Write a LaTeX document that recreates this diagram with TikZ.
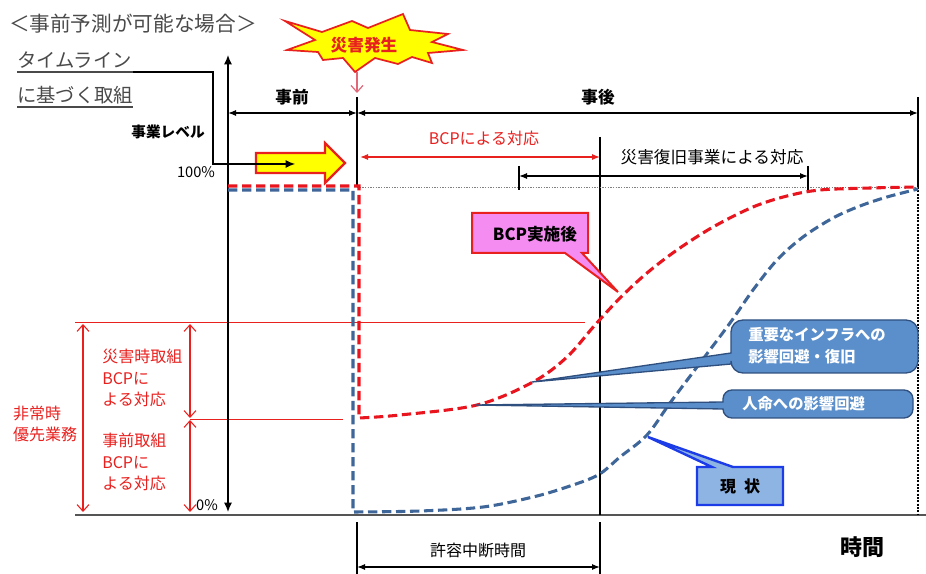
\documentclass[tikz,border=0pt]{standalone}
\usepackage{fontspec}
\setmainfont{Noto Sans CJK JP}
\usetikzlibrary{arrows.meta}
\definecolor{titlegray}{HTML}{4A4A4A}
\definecolor{redc}{HTML}{E8201E}
\definecolor{redd}{HTML}{E8141E}
\definecolor{blued}{HTML}{3F6699}
\definecolor{callb}{HTML}{5B8FCB}
\definecolor{callbd}{HTML}{2F507F}
\definecolor{genfill}{HTML}{8EB4E3}
\definecolor{genbd}{HTML}{1C3CE8}
\definecolor{pinkf}{HTML}{F58CF2}
\definecolor{yell}{HTML}{FFFF00}
\definecolor{smallarr}{HTML}{E06878}
\definecolor{axisgray}{HTML}{555555}
\newcommand\myfs[2]{\fontsize{#1}{#2}\selectfont}
\begin{document}
\begin{tikzpicture}[x=0.75pt,y=-0.75pt,
  txt/.style={inner sep=0pt, anchor=center},
  blk/.style={draw=black, line width=0.9pt},
  dimarrow/.style={draw=black, line width=0.9pt, {Latex[length=6pt,width=4.5pt]}-{Latex[length=6pt,width=4.5pt]}},
  redarrow/.style={draw=redc, line width=0.9pt, {Latex[length=6pt,width=4.5pt]}-{Latex[length=6pt,width=4.5pt]}},
  barb/.style={draw=redc, line width=0.8pt, {Straight Barb[length=5pt,width=9pt]}-{Straight Barb[length=5pt,width=9pt]}},
  reddash/.style={draw=redd, line width=2.3pt, dash pattern=on 7pt off 3.5pt},
  bluedash/.style={draw=blued, line width=2.3pt, dash pattern=on 7pt off 3.5pt},
  callout/.style={fill=callb, draw=callbd, line width=1pt},
  redtxt/.style={txt, text=redc, font=\myfs{12pt}{16pt}, align=left},
  calltxt/.style={txt, text=white, font=\bfseries\myfs{11.5pt}{16.5pt}, align=left}]
\useasboundingbox (0,0) rectangle (926,574);

% ---- title and timeline text
\node[txt, text=titlegray, font=\myfs{15.5pt}{18pt}] (title) at (133,24) {＜事前予測が可能な場合＞};
\node[inner sep=0pt, anchor=base west, text=titlegray, font=\myfs{14.5pt}{17pt}] (tl) at (17,68) {タイムライン};
\node[inner sep=0pt, anchor=base west, text=titlegray, font=\myfs{14.5pt}{17pt}] (kb) at (17,103) {に基づく取組};
\coordinate (ul1) at (17,72);
\coordinate (ul2) at (17,107);
\coordinate (ul2e) at (133,107);
\draw[line width=0.8pt, titlegray] (ul2) -- (ul2e);

% ---- red thin guide lines
\draw[redc, line width=0.7pt] (75,322) -- (585,322);
\draw[redc, line width=0.7pt] (190,419) -- (343,419);

% ---- axes
\draw[axisgray, line width=1.3pt] (75,515) -- (926,515);
\draw[line width=1pt, {Latex[length=7pt,width=6pt]}-{Latex[length=7pt,width=6pt]}] (228,512) -- (228,55);

% ---- vertical guides
\draw[blk] (357,97) -- (357,187);
\draw[blk] (918,97) -- (918,187);
\draw[line width=0.8pt, dash pattern=on 1.5pt off 1pt] (918,187) -- (918,515);
\draw[blk] (600,137) -- (600,515);
\draw[gray, line width=0.6pt, dash pattern=on 1pt off 1pt] (357,187) -- (918,187);
\draw[blk] (357,522) -- (357,574);
\draw[blk] (600,522) -- (600,574);

% ---- period arrows
\node[txt, font=\bfseries\myfs{12.5pt}{15pt}] (jizen) at (292,97) {事前};
\node[txt, font=\bfseries\myfs{12.5pt}{15pt}] (jigo) at (598,97) {事後};
\draw[dimarrow] (228,113) -- (357,113);
\draw[dimarrow] (357,113) -- (918,113);
\node[txt, text=redc, font=\myfs{12pt}{15pt}] (bcp) at (484,138) {BCPによる対応};
\draw[redarrow] (360,157) -- (600,157);
\node[txt, font=\myfs{12.5pt}{15pt}] (fukkyu) at (712,157) {災害復旧事業による対応};
\draw[dimarrow] (519,176) -- (808,176);
\draw[blk] (519,166) -- (519,190);
\draw[blk] (808,166) -- (808,190);

% ---- labels on axis
\node[txt, font=\bfseries\myfs{11pt}{13pt}] (level) at (168,132) {事業レベル};
\node[txt, font=\myfs{11pt}{13pt}] (p100) at (196,172) {100\%};
\node[txt, font=\myfs{11pt}{13pt}] (p0) at (207,505) {0\%};

% ---- yellow block arrow and timeline connector
\draw[fill=yell, draw=redc, line width=1.6pt] (256,153) -- (325,153) -- (325,143) -- (345,163) -- (325,183) -- (325,173) -- (256,173) -- cycle;
\coordinate (tlend) at (295,164);
\draw[line width=0.8pt, titlegray] (ul1) -- (133,72);
\draw[line width=0.8pt, -{Latex[length=7pt,width=6pt]}] (133,72) -- (213,72) |- (tlend);

% ---- red dimension arrows on the left
\draw[barb] (83,324) -- (83,512);
\draw[barb] (190,324) -- (190,418);
\draw[barb] (190,420) -- (190,512);
\node[redtxt] (hijo) at (45,424) {非常時\\優先業務};
\node[redtxt, anchor=west] (saigai) at (102,378) {災害時取組\\BCPに\\よる対応};
\node[redtxt, anchor=west] (jizent) at (102,462) {事前取組\\BCPに\\よる対応};

% ---- curves
\draw[bluedash] (228,190) -- (353,190) -- (353,512) -- plot[smooth, tension=0.55] coordinates {(353,512) (420,511) (483,507) (533,497) (567,487) (598,475) (620,457) (647,435) (670,403) (697,367) (730,323) (753,290) (777,260) (803,237) (833,218) (860,206) (887,197) (918,189)};
\draw[reddash] (228,186) -- (359,186) -- (359,418) -- plot[smooth, tension=0.55] coordinates {(359,418) (400,415) (477,405) (533,382) (567,357) (595,325) (620,298) (647,273) (677,250) (713,227) (753,207) (787,196) (820,190) (870,188) (918,187)};

% ---- callouts
\draw[fill=pinkf, draw=redc, line width=1.5pt] (472,213) -- (588,213) -- (588,253) -- (582,253) -- (618,292) -- (565,253) -- (472,253) -- cycle;
\node[txt, font=\bfseries\myfs{12.5pt}{15pt}] (bcpafter) at (535,234) {BCP実施後};

\path[callout] (532,382) -- (731,353) -- (731,332) arc[start angle=180,end angle=270,radius=12] -- (906,320) arc[start angle=270,end angle=360,radius=12] -- (918,361) arc[start angle=0,end angle=90,radius=12] -- (743,373) arc[start angle=90,end angle=180,radius=12] -- (731,364) -- cycle;
\node[calltxt, anchor=west] (infra) at (748,346) {重要なインフラへの\\影響回避・復旧};

\path[callout] (475,405) -- (723,402) -- (723,399) arc[start angle=180,end angle=270,radius=9] -- (904,390) arc[start angle=270,end angle=360,radius=9] -- (913,409) arc[start angle=0,end angle=90,radius=9] -- (732,418) arc[start angle=90,end angle=180,radius=9] -- (723,409) -- cycle;
\node[calltxt, anchor=west] (jinmei) at (742,404) {人命への影響回避};

\draw[fill=genfill, draw=genbd, line width=1.8pt] (697,467) -- (712,467) -- (648,437) -- (733,467) -- (783,467) -- (783,505) -- (697,505) -- cycle;
\node[txt, font=\bfseries\myfs{12pt}{15pt}] (genjo) at (740,486) {現\hspace{0.5em}状};

% ---- bottom
\draw[dimarrow] (357,567) -- (600,567);
\node[txt, font=\myfs{12pt}{15pt}] (kyoyo) at (478,550) {許容中断時間};
\node[txt, font=\bfseries\myfs{16.5pt}{19pt}] (jikan) at (862,547) {時間};

% ---- starburst
\draw[fill=yell, draw=redc, line width=1.3pt] (285,21) -- (322,32) -- (352,21) -- (368,28) -- (403,14) -- (410,30) -- (448,34) -- (432,42) -- (463,50) -- (428,53) -- (432,63) -- (412,57) -- (398,64) -- (375,58) -- (355,72) -- (343,58) -- (323,60) -- (318,52) -- (287,50) -- (315,40) -- cycle;
\node[txt, text=redc, font=\bfseries\myfs{12.5pt}{15pt}] (hassei) at (364,45) {災害発生};
\coordinate (sa1) at (357,72);
\coordinate (sa2) at (357,93);
\draw[smallarr, line width=0.9pt, -{Straight Barb[length=5pt,width=9pt]}] (sa1) -- (sa2);
\end{tikzpicture}
\end{document}
